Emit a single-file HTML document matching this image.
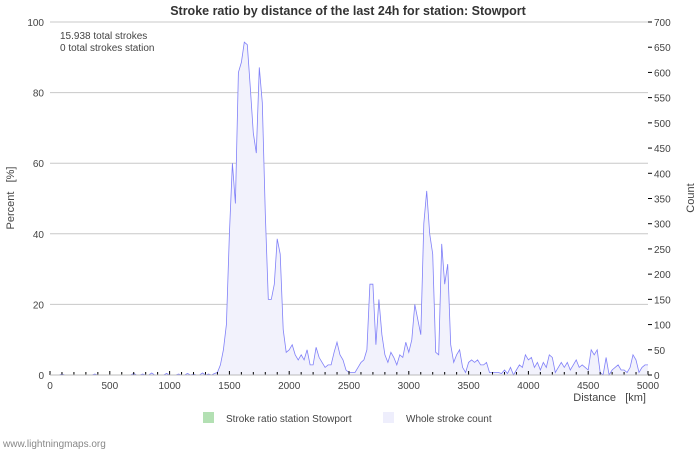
<!DOCTYPE html>
<html><head><meta charset="utf-8"><style>
body{margin:0;background:#fff;font-family:"Liberation Sans","DejaVu Sans",sans-serif;}
svg text{font-family:"Liberation Sans","DejaVu Sans",sans-serif;}
</style></head><body>
<svg id="c" width="700" height="450" xmlns="http://www.w3.org/2000/svg">
<text x="348" y="15" text-anchor="middle" font-size="12.5" font-weight="bold" fill="#333">Stroke ratio by distance of the last 24h for station: Stowport</text>
<text x="60" y="39" font-size="10" fill="#444">15.938 total strokes</text>
<text x="60" y="51" font-size="10" fill="#444">0 total strokes station</text>
<g id="grid"></g><g id="series"></g><g id="axes"></g>
<text x="14" y="198" font-size="11" fill="#444" text-anchor="middle" transform="rotate(-90 14 198)">Percent&#160;&#160;&#160;[%]</text>
<text x="694" y="198" font-size="11" fill="#444" text-anchor="middle" transform="rotate(-90 694 198)">Count</text>
<text x="646" y="401" font-size="11" fill="#444" text-anchor="end">Distance&#160;&#160;&#160;[km]</text>
<rect x="203" y="412" width="11" height="11" fill="#b3e0b3"/>
<text x="226" y="422" font-size="10" fill="#444">Stroke ratio station Stowport</text>
<rect x="383" y="412" width="11" height="11" fill="#eeeefc"/>
<text x="406" y="422" font-size="10" fill="#444">Whole stroke count</text>
<text x="3" y="447" font-size="10" fill="#888">www.lightningmaps.org</text>
</svg>
<script>
const xTicks=[0,500,1000,1500,2000,2500,3000,3500,4000,4500,5000];
const leftTicks=[0,20,40,60,80,100];
const rightTicks=[0,50,100,150,200,250,300,350,400,450,500,550,600,650,700];
const distStep=25;
const counts=[
0,0,0,0,2,0,0,0,0,0,0,0,0,0,0,2,0,0,0,0,0,0,0,0,0,0,0,0,3,0,0,2,0,0,4,0,0,0,0,3,
0,0,0,2,0,0,3,0,2,0,0,4,0,2,0,3,5,20,50,100,280,420,340,600,620,660,655,570,480,440,610,540,320,
150,150,180,270,240,90,45,50,60,40,30,40,30,50,20,20,55,35,25,15,20,20,45,65,40,30,10,5,5,5,
15,25,30,50,180,180,60,150,80,40,25,45,35,20,40,35,65,45,70,140,110,80,300,365,280,240,45,40,260,180,
220,60,25,40,50,15,5,25,30,25,30,20,20,25,5,5,5,5,3,10,3,15,0,10,20,15,40,30,35,15,
25,10,25,15,40,35,5,15,25,15,25,10,20,30,15,20,15,10,50,40,50,5,0,35,0,10,15,20,10,10,
5,15,40,30,5,15,20,20];
const X0=50,X1=648,Y0=375,Y1=22;
const xs=d=>X0+(d/5000)*(X1-X0);
const yl=p=>Y0-(p/100)*(Y0-Y1);
const yr=c=>Y0-(c/700)*(Y0-Y1);
const NS="http://www.w3.org/2000/svg";
function mk(tag,attrs,parent){const e=document.createElementNS(NS,tag);for(const k in attrs)e.setAttribute(k,attrs[k]);document.getElementById(parent).appendChild(e);return e;}
leftTicks.forEach(t=>{
 if(t>0){const g=mk('line',{x1:X0,x2:X1,y1:yl(t),y2:yl(t),stroke:'#c8c8c8','stroke-width':1},'grid');
 
 }
 const l=mk('text',{x:X0-6,y:yl(t)+4,'font-size':10,fill:'#444','text-anchor':'end'},'axes');l.textContent=t;
 
 
});
rightTicks.forEach(t=>{
 const tk=mk('line',{x1:X1,x2:X1+4,y1:yr(t),y2:yr(t),stroke:'#000'},'axes');
 
 
 const l=mk('text',{x:X1+6,y:yr(t)+4,'font-size':10,fill:'#444'},'axes');l.textContent=t;
 
 
});
for(let d=0;d<=5000;d+=100){
 const tk=mk('line',{x1:xs(d),x2:xs(d),y1:Y0,y2:Y0-(d%500===0?4:3),stroke:'#000'},'axes');
 
 
}
xTicks.forEach(t=>{
 const l=mk('text',{x:xs(t),y:Y0+14,'font-size':10,fill:'#444','text-anchor':'middle'},'axes');l.textContent=t;
 
 
});
let pts=counts.map((c,i)=>xs(i*distStep).toFixed(1)+','+yr(c).toFixed(1));
const area=mk('polygon',{points:xs(0)+','+Y0+' '+pts.join(' ')+' '+xs((counts.length-1)*distStep)+','+Y0,fill:'#f2f2fc'},'series');


const line=mk('polyline',{points:pts.join(' '),fill:'none',stroke:'#8080f8','stroke-width':0.8},'series');


const ax=mk('line',{x1:X0,x2:X1,y1:Y0,y2:Y0,stroke:'#bbb'},'axes');


</script>
</body></html>
